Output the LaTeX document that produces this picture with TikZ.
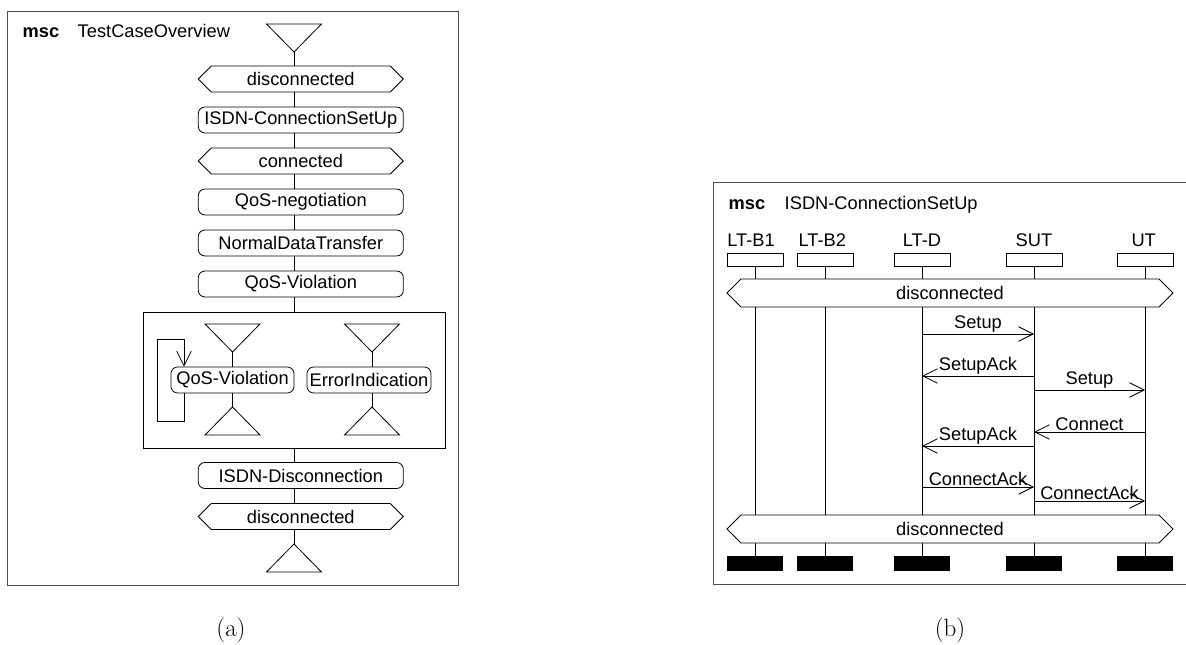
\documentclass[tikz,border=0pt]{standalone}
\usepackage{fontspec}
\usepackage{tikz}
\usetikzlibrary{shapes.symbols, arrows.meta, positioning}
\newfontfamily\helv{Liberation Sans}
\newcommand{\mscfont}{\helv\fontsize{13.7pt}{16pt}\selectfont}

\tikzstyle{frame} = [draw=black!70, line width=0.7pt]
\tikzstyle{mref} = [rectangle, rounded corners=5pt, draw, fill=white, minimum width=153.75pt, minimum height=19.5pt, inner sep=1pt, font=\mscfont]
\tikzstyle{cond} = [signal, signal to=east and west, draw, fill=white, minimum width=153.75pt, minimum height=19.5pt, inner sep=1pt, font=\mscfont]
\tikzstyle{inst} = [rectangle, draw, minimum width=42pt, minimum height=9.75pt, inner sep=0]
\tikzstyle{stopbar} = [rectangle, fill=black, minimum width=42pt, minimum height=11.25pt, inner sep=0]
\tikzstyle{lbl} = [font=\mscfont, inner sep=1pt]
\tikzstyle{msg} = [->, >={Straight Barb[length=11pt,width=11pt]}]

\begin{document}
\begin{tikzpicture}[x=0.75pt, y=-0.75pt, line width=0.6pt, node distance=30.75pt]
    \useasboundingbox (0,0) rectangle (1186,645);

    % (a) high level msc
    \draw[frame] (7,11) rectangle (458,585);
    \node[lbl, anchor=base west] at (21,37.5) {\bfseries msc};
    \node[lbl, anchor=base west] at (76,37.5) {TestCaseOverview};

    \coordinate (tA) at (294,52);
    \draw (tA) -- ++(-27.5,-28) -- ++(55,0) -- cycle;

    \node (dis1) [cond] at (300.8,79) {disconnected};
    \node (isdn) [mref, below of=dis1] {ISDN-ConnectionSetUp};
    \node (con) [cond, below of=isdn] {connected};
    \node (qneg) [mref, below of=con] {QoS-negotiation};
    \node (ndt) [mref, below of=qneg] {NormalDataTransfer};
    \node (qv) [mref, below of=ndt] {QoS-Violation};

    % parallel frame
    \node (par) [draw, minimum width=226.5pt, minimum height=102pt] at (294,380) {};

    \coordinate (tB) at (232.5,352);
    \draw (tB) -- ++(-27.5,-28) -- ++(55,0) -- cycle;
    \coordinate (tC) at (372,352);
    \draw (tC) -- ++(-27.5,-28) -- ++(55,0) -- cycle;
    \node (qv2) [mref, minimum width=92.25pt] at (232.5,380) {QoS-Violation};
    \node (err) [mref, minimum width=93pt] at (369,380) {ErrorIndication};
    \coordinate (bB) at (232.5,407);
    \draw (bB) -- ++(-27.5,28) -- ++(55,0) -- cycle;
    \coordinate (bC) at (372,407);
    \draw (bC) -- ++(-27.5,28) -- ++(55,0) -- cycle;
    \draw (tB) -- (qv2) -- (bB);
    \draw (tC) -- (err.north -| tC);
    \draw (err.south -| tC) -- (bC);

    % loop back
    \draw[msg] (qv2.south -| 184,0) -- ++(0,28) -- ++(-27,0) -- ++(0,-82) -- ++(27,0) -- (qv2.north -| 184,0);

    \node (disc) [mref] at (300.8,475.5) {ISDN-Disconnection};
    \node (dis2) [cond, below of=disc] {disconnected};
    \coordinate (bA) at (294,544);
    \draw (bA) -- ++(-27.5,28) -- ++(55,0) -- cycle;

    \draw (tA) -- (dis1.north -| tA);
    \foreach \a/\b in {dis1/isdn, isdn/con, con/qneg, qneg/ndt, ndt/qv, disc/dis2}
        \draw (\a.south -| tA) -- (\b.north -| tA);
    \draw (qv.south -| tA) -- (par);
    \draw (par) -- (disc.north -| tA);
    \draw (dis2.south -| tA) -- (bA);

    \node at (231,630) {\fontsize{18.75pt}{22pt}\selectfont (a)};

    % (b) basic msc
    \draw[frame] (1186,182) -- (713,182) -- (713,584) -- (1186,584);
    \node[lbl, anchor=base west] at (727,210) {\bfseries msc};
    \node[lbl, anchor=base west] at (783,210) {ISDN-ConnectionSetUp};

    \node (hB1) [inst] at (755,259.5) {};
    \node (hB2) [inst] at (825,259.5) {};
    \node (hD) [inst] at (922,259.5) {};
    \node (hS) [inst] at (1034,259.5) {};
    \node (hU) [inst] at (1145,259.5) {};
    \node[lbl, above=3.5pt of hB1, xshift=-3pt] {LT-B1};
    \node[lbl, above=3.5pt of hB2, xshift=-2pt] {LT-B2};
    \node[lbl, above=3.5pt of hD] {LT-D};
    \node[lbl, above=3.5pt of hS] {SUT};
    \node[lbl, above=3.5pt of hU, xshift=-1pt] {UT};

    \node (eB1) [stopbar] at (755,563.5) {};
    \node (eB2) [stopbar] at (825,563.5) {};
    \node (eD) [stopbar] at (922,563.5) {};
    \node (eS) [stopbar] at (1034,563.5) {};
    \node (eU) [stopbar] at (1145,563.5) {};

    \foreach \i in {B1,B2,D,S,U}
        \draw (h\i) -- (e\i);

    \node (c1) [cond, minimum width=334.5pt, minimum height=21pt] at (950,293) {disconnected};
    \node (c2) [cond, minimum width=334.5pt, minimum height=21pt] at (950,529) {disconnected};

    % messages
    \draw[msg] (hD |- 0,334) -- node[lbl, above] {Setup} (hS |- 0,334);
    \draw[msg] (hS |- 0,376) -- node[lbl, above] {SetupAck} (hD |- 0,376);
    \draw[msg] (hS |- 0,390) -- node[lbl, above] {Setup} (hU |- 0,390);
    \draw[msg] (hU |- 0,432) -- node[lbl, above] {Connect} (hS |- 0,432);
    \draw[msg] (hS |- 0,446) -- node[lbl, above] {SetupAck} (hD |- 0,446);
    \draw[msg] (hD |- 0,487) -- node[lbl, above] {ConnectAck} (hS |- 0,487);
    \draw[msg] (hS |- 0,501) -- node[lbl, above] {ConnectAck} (hU |- 0,501);

    \node at (950,630) {\fontsize{18.75pt}{22pt}\selectfont (b)};
\end{tikzpicture}
\end{document}
